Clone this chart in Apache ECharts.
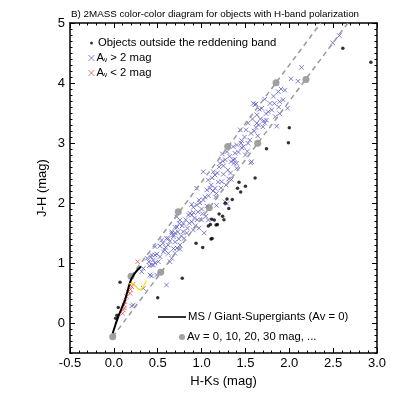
<!DOCTYPE html>
<html>
<head>
<meta charset="utf-8">
<script src="https://cdn.jsdelivr.net/npm/echarts@6/dist/echarts.min.js"></script>
<style>
  html, body { margin: 0; padding: 0; background: #fff; }
  #chart { width: 399px; height: 399px; }
</style>
</head>
<body>
<div id="chart"></div>
<script>
// axis settings
const xMin = -0.5
const xMax = 3.0
const yMin = -0.5
const yMax = 5

// objects outside the reddening band (H-Ks, J-H)
const outsideBand = [
  [2.61, 4.58], [2.93, 4.345], [2.0, 3.255], [1.99, 3.005], [1.74, 2.905], [1.61, 2.417],
  [1.427, 2.345], [1.5, 2.28], [1.41, 2.245], [1.446, 2.183], [1.29, 2.067], [1.35, 2.06],
  [1.27, 1.995], [1.31, 1.91], [1.2, 1.817], [1.24, 1.78], [1.255, 1.72], [1.115, 1.73],
  [1.145, 1.717], [1.165, 1.633], [1.077, 1.617], [1.1, 1.64], [1.18, 1.64], [1.108, 1.4],
  [1.12, 1.41], [0.937, 1.328], [1.013, 1.26], [0.78, 0.745], [0.5, 0.422], [0.07, 0.678],
  [0.05, 0.26], [0.02, 0.08], [0.035, 0.13]
]

// Av > 2 mag
const highAv = [
  [0.203, 0.283], [0.222, 0.3], [0.336, 0.578], [0.317, 0.855], [0.336, 0.91], [0.38, 1.078],
  [0.404, 0.955], [0.412, 0.8], [0.43, 0.783], [0.43, 0.967], [0.45, 0.967], [0.43, 1.133],
  [0.45, 1.05], [0.47, 1.133], [0.47, 1.272], [0.49, 1.15], [0.488, 0.8], [0.47, 1.0],
  [0.507, 1.022], [0.4, 1.02], [0.42, 1.1],
  [0.526, 1.283], [0.526, 1.105], [0.546, 1.383], [0.564, 1.188], [0.58, 1.22], [0.6, 1.41],
  [0.6, 0.633], [0.62, 1.41], [0.62, 1.3], [0.64, 1.022], [0.66, 1.078], [0.66, 1.52],
  [0.66, 1.495], [0.678, 1.438], [0.68, 1.467], [0.697, 1.16], [0.697, 1.595], [0.7, 1.35],
  [0.717, 1.77], [0.72, 1.25], [0.73, 1.52], [0.746, 1.66], [0.754, 1.717], [0.754, 1.3],
  [0.754, 1.228], [0.77, 1.45], [0.78, 1.62], [0.79, 1.66], [0.79, 1.522], [0.8, 1.41],
  [0.56, 1.33], [0.59, 1.26], [0.64, 1.36], [0.7, 1.5], [0.74, 1.4], [0.68, 1.24],
  [0.62, 1.16], [0.72, 1.6],
  [0.82, 1.72], [0.84, 1.58], [0.85, 1.8], [0.868, 1.828], [0.888, 1.8], [0.888, 1.688],
  [0.888, 1.978], [0.906, 1.928], [0.906, 1.55], [0.92, 1.75], [0.93, 1.62], [0.944, 1.967],
  [0.945, 2.245], [0.96, 1.85], [0.97, 2.05], [1.0, 1.717], [1.0, 1.9], [1.02, 2.05],
  [1.02, 2.52], [1.03, 1.5], [1.04, 2.1], [1.05, 1.78], [1.06, 2.217], [1.06, 1.95],
  [1.077, 2.383], [1.077, 1.717], [1.08, 2.12], [1.096, 2.245], [0.83, 1.5], [0.86, 1.66],
  [0.95, 1.72], [0.98, 2.0], [1.01, 1.82], [0.91, 1.84], [0.97, 1.58],
  [1.11, 2.3], [1.12, 2.42], [1.134, 2.52], [1.153, 2.467], [1.153, 2.245], [1.16, 2.1],
  [1.17, 2.16], [1.17, 1.96], [1.19, 2.35], [1.2, 2.6], [1.21, 2.66], [1.22, 2.25],
  [1.23, 2.355], [1.237, 2.817], [1.25, 2.48], [1.267, 2.02], [1.27, 2.72], [1.29, 2.855],
  [1.29, 1.99], [1.3, 2.55], [1.31, 2.4], [1.32, 2.78], [1.336, 2.69], [1.34, 2.39],
  [1.36, 2.717], [1.36, 2.94], [1.37, 2.66], [1.38, 2.83], [1.38, 2.728], [1.4, 2.58],
  [1.4, 2.967], [1.4, 2.66], [1.13, 2.2], [1.25, 2.62], [1.28, 2.3], [1.33, 2.5],
  [1.18, 2.5], [1.24, 2.7],
  [1.44, 3.22], [1.457, 3.04], [1.457, 2.92], [1.476, 2.94], [1.49, 3.1], [1.507, 3.22],
  [1.52, 2.86], [1.53, 2.995], [1.53, 3.33], [1.55, 3.05], [1.56, 2.67], [1.564, 3.16],
  [1.57, 2.69], [1.58, 3.4], [1.59, 3.66], [1.61, 3.64], [1.62, 3.26], [1.62, 3.65],
  [1.63, 3.47], [1.63, 3.33], [1.64, 3.12], [1.66, 3.56], [1.67, 3.4], [1.686, 3.578],
  [1.7, 3.27], [1.71, 3.37], [1.45, 3.0], [1.5, 2.8], [1.6, 3.2], [1.65, 3.3], [1.42, 2.85],
  [1.72, 3.73], [1.72, 3.33], [1.735, 3.49], [1.74, 3.38], [1.76, 3.52], [1.78, 3.66],
  [1.8, 3.55], [1.82, 3.78], [1.83, 3.66], [1.84, 3.44], [1.857, 3.28], [1.875, 3.855],
  [1.88, 3.6], [1.89, 3.49], [1.89, 3.69], [1.906, 3.9], [1.93, 3.72], [1.95, 3.88],
  [1.98, 3.58], [2.02, 4.07],
  [2.1, 4.03], [2.14, 4.26], [2.495, 4.67], [2.571, 4.79]
]

// Av < 2 mag
const lowAv = [
  [0.272, 1.022], [0.222, 0.65], [0.203, 0.605], [0.19, 0.56], [0.184, 0.495], [0.146, 0.44],
  [0.127, 0.355], [0.116, 0.3], [0.108, 0.217], [0.1, 0.16], [0.16, 0.52], [0.12, 0.25]
]

// MS / giant-supergiant locus (Av = 0)
const msLocus = [
  [-0.013, -0.17], [0.02, -0.02], [0.05, 0.105], [0.09, 0.25], [0.127, 0.383], [0.15, 0.5],
  [0.165, 0.578], [0.185, 0.68], [0.203, 0.745], [0.23, 0.81], [0.253, 0.855], [0.28, 0.9],
  [0.31, 0.94]
]

// yellow locus
const yellowLocus = [
  [0.176, 0.65], [0.2, 0.66], [0.222, 0.655], [0.245, 0.62], [0.26, 0.595], [0.28, 0.565],
  [0.298, 0.56], [0.318, 0.57], [0.336, 0.61], [0.355, 0.66], [0.374, 0.705]
]

// reddening band borders
const upperBand = [[0.196, 0.78], [2.359, 5.0]]
const lowerBand = [[-0.013, -0.23], [2.668, 5.0]]

// Av = 0, 10, 20, 30 mag markers
const avMarks = [
  [0.196, 0.78], [0.735, 1.855], [1.298, 2.94], [1.849, 4.005],
  [-0.013, -0.23], [0.534, 0.845], [1.088, 1.92], [1.64, 2.995], [2.19, 4.06]
]

const font = 'Liberation Sans'
const crossPath = 'path://M0,0L10,10M10,0L0,10'

const chart = echarts.init(document.getElementById('chart'), null, { renderer: 'canvas' })

const axisBase = {
  type: 'value',
  splitLine: { show: false },
  axisLine: { onZero: false, lineStyle: { color: '#000', width: 1.5 } },
  axisTick: { inside: true, length: 5, lineStyle: { color: '#000', width: 1 } },
  minorTick: { show: true, splitNumber: 5, length: 2.5, lineStyle: { color: '#000', width: 1 } },
  axisLabel: { color: '#000', fontFamily: font, fontSize: 13 }
}

const legendText = {
  color: '#000',
  fontFamily: font,
  fontSize: 11.3,
  lineHeight: 14,
  rich: {
    s: { fontSize: 6.5, fontFamily: font, color: '#000', padding: [5, 0, 0, 0] }
  }
}

const avName = name => {
  if (name === 'Av > 2 mag') return 'A{s|v} > 2 mag'
  if (name === 'Av < 2 mag') return 'A{s|v} < 2 mag'
  return name
}

const option = {
  backgroundColor: '#fff',
  animation: false,
  title: {
    text: 'B) 2MASS color-color diagram for objects with H-band polarization',
    left: 71,
    top: 9,
    padding: 0,
    textStyle: { color: '#000', fontFamily: font, fontSize: 9.8, fontWeight: 'normal' }
  },
  grid: [
    { left: 70, right: 22, top: 23, bottom: 46 },
    { left: 70, right: 22, top: 23, bottom: 76 } // 0..5 only, for the longer integer ticks
  ],
  legend: [
    { data: ['Objects outside the reddening band'], left: 90, top: 36, padding: 0, itemWidth: 3, itemHeight: 3, textStyle: legendText },
    { data: ['Av > 2 mag'], left: 88, top: 51, padding: 0, itemWidth: 6, itemHeight: 6, itemStyle: { borderWidth: 0.8 }, formatter: avName, textStyle: { ...legendText, padding: [0, 0, 0, -3] } },
    { data: ['Av < 2 mag'], left: 88, top: 66, padding: 0, itemWidth: 6, itemHeight: 6, itemStyle: { borderWidth: 0.8 }, formatter: avName, textStyle: { ...legendText, padding: [0, 0, 0, -3] } },
    { data: [{ name: 'MS / Giant-Supergiants (Av = 0)', icon: 'rect' }], left: 158, top: 310, padding: 0, itemWidth: 28, itemHeight: 1.6, textStyle: { ...legendText, padding: [0, 0, 0, -3] } },
    { data: ['Av = 0, 10, 20, 30 mag, ...'], left: 179, top: 330, padding: 0, itemWidth: 6, itemHeight: 6, textStyle: { ...legendText, padding: [0, 0, 0, -3] } }
  ],
  xAxis: [
    {
      ...axisBase,
      gridIndex: 0,
      position: 'bottom',
      min: xMin,
      max: xMax,
      interval: 0.5,
      name: 'H-Ks (mag)',
      nameLocation: 'middle',
      nameGap: 21,
      nameTextStyle: { color: '#000', fontFamily: font, fontSize: 13 },
      axisLabel: { ...axisBase.axisLabel, margin: 4, formatter: v => v.toFixed(1) }
    },
    {
      ...axisBase,
      gridIndex: 0,
      position: 'top',
      min: xMin,
      max: xMax,
      interval: 0.5,
      axisLabel: { show: false }
    },
    { type: 'value', gridIndex: 1, show: false, min: 0, max: 1 }
  ],
  yAxis: [
    {
      ...axisBase,
      gridIndex: 0,
      position: 'left',
      min: yMin,
      max: yMax,
      interval: 0.5,
      axisTick: { ...axisBase.axisTick, length: 2.5 },
      axisLabel: { show: false },
      name: 'J-H (mag)',
      nameLocation: 'middle',
      nameGap: 21,
      nameTextStyle: { color: '#000', fontFamily: font, fontSize: 13 }
    },
    {
      ...axisBase,
      gridIndex: 0,
      position: 'right',
      min: yMin,
      max: yMax,
      interval: 0.5,
      axisTick: { ...axisBase.axisTick, length: 2.5 },
      axisLabel: { show: false }
    },
    {
      ...axisBase,
      gridIndex: 1,
      position: 'left',
      min: 0,
      max: yMax,
      interval: 1,
      axisLine: { show: false },
      minorTick: { show: false },
      axisLabel: { ...axisBase.axisLabel, margin: 5 }
    },
    {
      ...axisBase,
      gridIndex: 1,
      position: 'right',
      min: 0,
      max: yMax,
      interval: 1,
      axisLine: { show: false },
      minorTick: { show: false },
      axisLabel: { show: false }
    }
  ],
  series: [
    {
      name: 'upper band',
      type: 'line',
      data: upperBand,
      symbol: 'none',
      silent: true,
      lineStyle: { color: '#999', width: 1.5, type: [5, 4] }
    },
    {
      name: 'lower band',
      type: 'line',
      data: lowerBand,
      symbol: 'none',
      silent: true,
      lineStyle: { color: '#999', width: 1.5, type: [5, 4] }
    },
    {
      name: 'Av > 2 mag',
      type: 'scatter',
      data: highAv,
      symbol: crossPath,
      symbolSize: 4.5,
      itemStyle: { color: 'rgba(0,0,0,0)', borderColor: '#6060c8', borderWidth: 0.8, opacity: 1 }
    },
    {
      name: 'Objects outside the reddening band',
      type: 'scatter',
      data: outsideBand,
      symbol: 'circle',
      symbolSize: 3.5,
      itemStyle: { color: '#000' }
    },
    {
      name: 'Av < 2 mag',
      type: 'scatter',
      data: lowAv,
      symbol: crossPath,
      symbolSize: 4.5,
      itemStyle: { color: 'rgba(0,0,0,0)', borderColor: '#f05050', borderWidth: 0.8, opacity: 1 }
    },
    {
      name: 'MS / Giant-Supergiants (Av = 0)',
      type: 'line',
      data: msLocus,
      symbol: 'none',
      lineStyle: { color: '#000', width: 2 },
      itemStyle: { color: '#000' }
    },
    {
      name: 'yellow locus',
      type: 'line',
      data: yellowLocus,
      symbol: 'none',
      smooth: true,
      lineStyle: { color: '#f2e600', width: 1.2 }
    },
    {
      name: 'Av = 0, 10, 20, 30 mag, ...',
      type: 'scatter',
      data: avMarks,
      symbol: 'circle',
      symbolSize: 7,
      itemStyle: { color: '#8a8a8a' }
    }
  ]
}

chart.setOption(option)
</script>
</body>
</html>
